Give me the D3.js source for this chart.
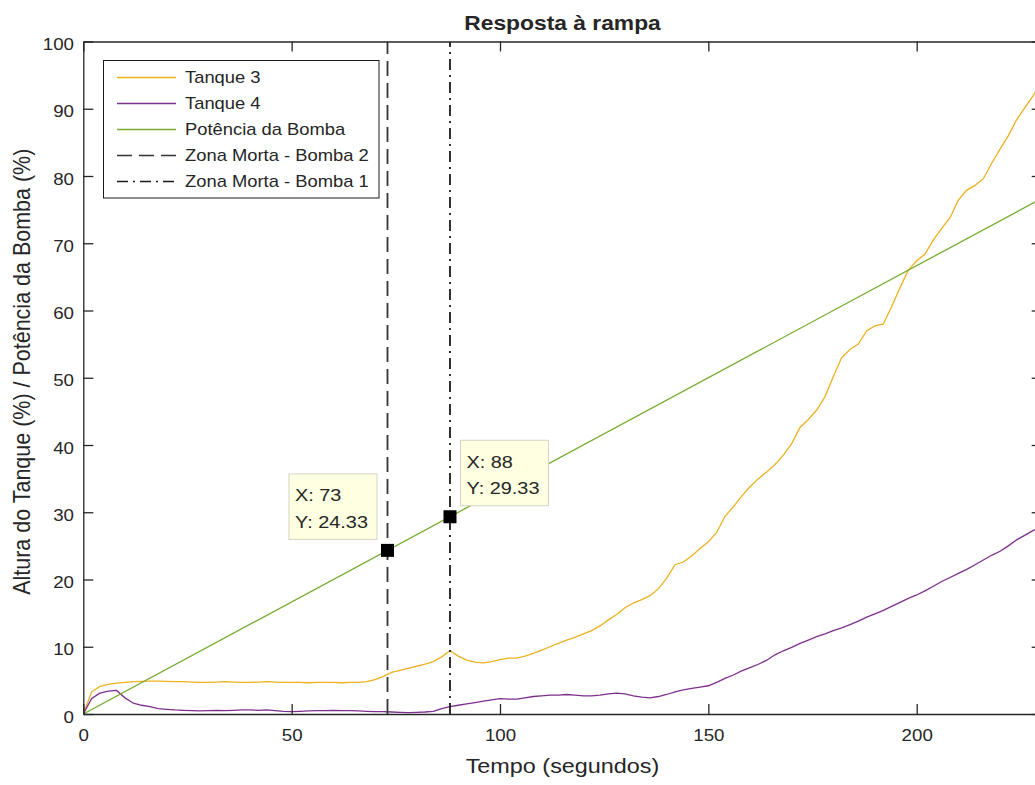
<!DOCTYPE html>
<html>
<head>
<meta charset="utf-8">
<script src="https://cdn.jsdelivr.net/npm/d3@7"></script>
<style>
body { margin: 0; background: #fff; }
text { font-family: "Liberation Sans", Arial, Helvetica, sans-serif; fill: #262626; }
</style>
</head>
<body>
<div id="chart"></div>
<script>
const tempo = [0,2,4,6,8,10,12,14,16,18,20,22,24,26,28,30,32,34,36,38,40,42,44,46,48,50,
    52,54,56,58,60,62,64,66,68,70,72,74,76,78,80,82,84,86,88,90,92,94,96,98,100,
    102,104,106,108,110,112,114,116,118,120,122,124,126,128,130,132,134,136,138,140,
    142,144,146,148,150,152,154,156,158,160,162,164,166,168,170,172,174,176,178,180,
    182,184,186,188,190,192,194,196,198,200,202,204,206,208,210,212,214,216,218,220,
    222,224,226,228,230];
const tanque3 = [0,3.3,4.1,4.4,4.6,4.7,4.8,4.85,4.9,4.9,4.85,4.8,4.8,4.75,4.7,4.7,4.75,4.8,4.75,4.7,4.7,4.75,4.8,4.75,4.7,4.7,
    4.7,4.65,4.7,4.7,4.7,4.65,4.7,4.7,4.8,5.1,5.6,6.2,6.5,6.8,7.1,7.4,7.8,8.5,9.4,8.6,8.0,7.7,7.6,7.8,8.1,
    8.3,8.3,8.6,9.0,9.5,10.0,10.5,11.0,11.4,11.9,12.4,13.1,14.0,14.8,15.8,16.5,17.0,17.6,18.6,20.2,
    22.2,22.6,23.5,24.6,25.6,27.0,29.4,30.8,32.4,33.8,35.0,36.0,37.1,38.5,40.2,42.6,43.8,45.2,47.2,50.2,
    53.0,54.2,55.0,57.0,57.7,58.0,60.6,63.4,66.0,67.4,68.4,70.5,72.2,73.8,76.4,77.9,78.6,79.6,81.9,84.0,
    86.0,88.4,90.2,92.0,94.0];
const tanque4 = [0,2.3,3.1,3.4,3.5,2.4,1.6,1.3,1.1,0.8,0.7,0.6,0.55,0.5,0.45,0.5,0.55,0.5,0.55,0.6,0.6,0.55,0.6,0.5,0.4,0.35,
    0.4,0.45,0.5,0.5,0.55,0.5,0.5,0.45,0.4,0.35,0.35,0.3,0.25,0.2,0.25,0.3,0.4,0.8,1.1,1.3,1.5,1.7,1.9,2.1,2.3,
    2.2,2.2,2.4,2.6,2.7,2.8,2.8,2.9,2.8,2.7,2.7,2.8,3.0,3.1,3.0,2.7,2.5,2.4,2.6,2.9,
    3.3,3.6,3.8,4.0,4.2,4.7,5.3,5.8,6.4,6.9,7.4,8.0,8.8,9.4,9.9,10.5,11.0,11.5,11.9,12.4,
    12.8,13.3,13.8,14.4,14.9,15.4,16.0,16.6,17.2,17.7,18.3,19.0,19.7,20.3,20.9,21.5,22.2,22.9,23.6,24.2,
    25.0,25.9,26.6,27.3,27.9];
const bombaTempo = [0, 230];
const bombaPotencia = [0, 76.67];
const zonaMorta = [73, 88];
const dataTipX = [73, 88];
const dataTipY = [24.33, 29.33];
const xTicks = [0, 50, 100, 150, 200];
const yTicks = [0, 10, 20, 30, 40, 50, 60, 70, 80, 90, 100];
const legendLabels = ["Tanque 3", "Tanque 4", "Potência da Bomba", "Zona Morta - Bomba 2", "Zona Morta - Bomba 1"];

const cores = ["#EDB120", "#7E2F8E", "#77AC30", "#333333", "#1a1a1a"];
const tracos = [null, null, null, "15,7", "11,5,2,5"];
const sx = 1.17; // picture is stretched horizontally

const width = 1035;
const height = 785;
const mLeft = 83.3, mTop = 41.5, mRight = 1041.7, mBottom = 714;

const svg = d3.select("#chart")
    .append("svg")
    .attr("width", width)
    .attr("height", height);

const xScale = d3.scaleLinear().domain([0, 230]).range([mLeft, mRight]);
const yScale = d3.scaleLinear().domain([0, 100]).range([mBottom, mTop]);

const putText = (x, y, txt, size, anchor, weight) =>
    svg.append("text")
        .attr("transform", `translate(${x},${y}) scale(${sx},1)`)
        .attr("text-anchor", anchor)
        .style("font-size", `${size}px`)
        .style("font-weight", weight || "normal")
        .text(txt);

// data lines
svg.append("clipPath").attr("id", "clip")
    .append("rect")
    .attr("x", mLeft).attr("y", mTop)
    .attr("width", mRight - mLeft).attr("height", mBottom - mTop);

const plot = svg.append("g").attr("clip-path", "url(#clip)");

const linha = d3.line()
    .x((d) => xScale(d[0]))
    .y((d) => yScale(d[1]));

const series = [
    tempo.map((t, i) => [t, tanque3[i]]),
    tempo.map((t, i) => [t, tanque4[i]]),
    bombaTempo.map((t, i) => [t, bombaPotencia[i]])
];

series.forEach((s, i) =>
{
    plot.append("path")
        .datum(s)
        .attr("fill", "none")
        .attr("stroke", cores[i])
        .attr("stroke-width", 1.3)
        .attr("d", linha);
});

zonaMorta.forEach((z, i) =>
{
    plot.append("line")
        .attr("x1", xScale(z)).attr("x2", xScale(z))
        .attr("y1", yScale(0)).attr("y2", yScale(100))
        .attr("stroke", cores[3 + i])
        .attr("stroke-width", 1.8)
        .attr("stroke-dasharray", tracos[3 + i]);
});

// axes
const axisColor = "#262626";
const gx = svg.append("g")
    .attr("transform", `translate(0,${mBottom})`)
    .call(d3.axisBottom(xScale).tickValues(xTicks).tickSizeInner(-10).tickSizeOuter(0).tickPadding(15.5));
const gy = svg.append("g")
    .attr("transform", `translate(${mLeft},0)`)
    .call(d3.axisLeft(yScale).tickValues(yTicks).tickSizeInner(-10).tickSizeOuter(0).tickPadding(9.3));
const gt = svg.append("g")
    .attr("transform", `translate(0,${mTop})`)
    .call(d3.axisTop(xScale).tickValues(xTicks).tickSizeInner(-10).tickSizeOuter(0).tickFormat(""));
const gr = svg.append("g")
    .attr("transform", `translate(${mRight},0)`)
    .call(d3.axisRight(yScale).tickValues(yTicks).tickSizeInner(-10).tickSizeOuter(0).tickFormat(""));

[gx, gy, gt, gr].forEach((g) =>
{
    g.style("color", axisColor);
    g.selectAll("path, line").attr("stroke-width", 1.3);
});

gx.selectAll("text")
    .style("font-size", "16px")
    .attr("transform", `scale(${sx},1)`);
gy.selectAll("text")
    .style("font-size", "16px")
    .attr("dy", "0.5em")
    .attr("x", 0)
    .attr("transform", `translate(-9.3,0) scale(${sx},1)`);

// titles
putText((mLeft + mRight) / 2, 30, "Resposta à rampa", 19.5, "middle", "bold");
putText((mLeft + mRight) / 2, 773, "Tempo (segundos)", 20, "middle");
svg.append("text")
    .attr("transform", `translate(30,${(mTop + mBottom) / 2 - 6}) scale(1.08,1) rotate(-90)`)
    .attr("text-anchor", "middle")
    .style("font-size", "21.5px")
    .text("Altura do Tanque (%) / Potência da Bomba (%)");

// data tips
dataTipX.forEach((x, i) =>
{
    const px = xScale(x), py = yScale(dataTipY[i]);
    const w = 88, h = 65.5;
    const bx = i == 0 ? px - 10.5 - w : px + 10.5;
    const by = py - 11 - h;
    svg.append("rect")
        .attr("x", bx).attr("y", by)
        .attr("width", w).attr("height", h)
        .attr("fill", "#ffffe1")
        .attr("stroke", "#d4d4c4")
        .attr("stroke-width", 1);
    putText(bx + 6, by + 27.5, `X: ${x}`, 17, "start");
    putText(bx + 6, by + 54, `Y: ${dataTipY[i]}`, 17, "start");
    svg.append("rect")
        .attr("x", px - 6.5).attr("y", py - 6.5)
        .attr("width", 13).attr("height", 13)
        .attr("fill", "#000");
});

// legend
const legend = svg.append("g");
legend.append("rect")
    .attr("x", 103.5).attr("y", 60.5)
    .attr("width", 275.5).attr("height", 137.5)
    .attr("fill", "#fff")
    .attr("stroke", "#1a1a1a")
    .attr("stroke-width", 1);

legendLabels.forEach((lbl, i) =>
{
    const y = 77.5 + i * 26;
    legend.append("line")
        .attr("x1", 117).attr("x2", 176)
        .attr("y1", y).attr("y2", y)
        .attr("stroke", cores[i])
        .attr("stroke-width", i < 3 ? 1.4 : 1.5)
        .attr("stroke-dasharray", tracos[i]);
    legend.append("text")
        .attr("transform", `translate(185,${y + 5.8}) scale(${sx},1)`)
        .style("font-size", "15.7px")
        .text(lbl);
});
</script>
</body>
</html>
